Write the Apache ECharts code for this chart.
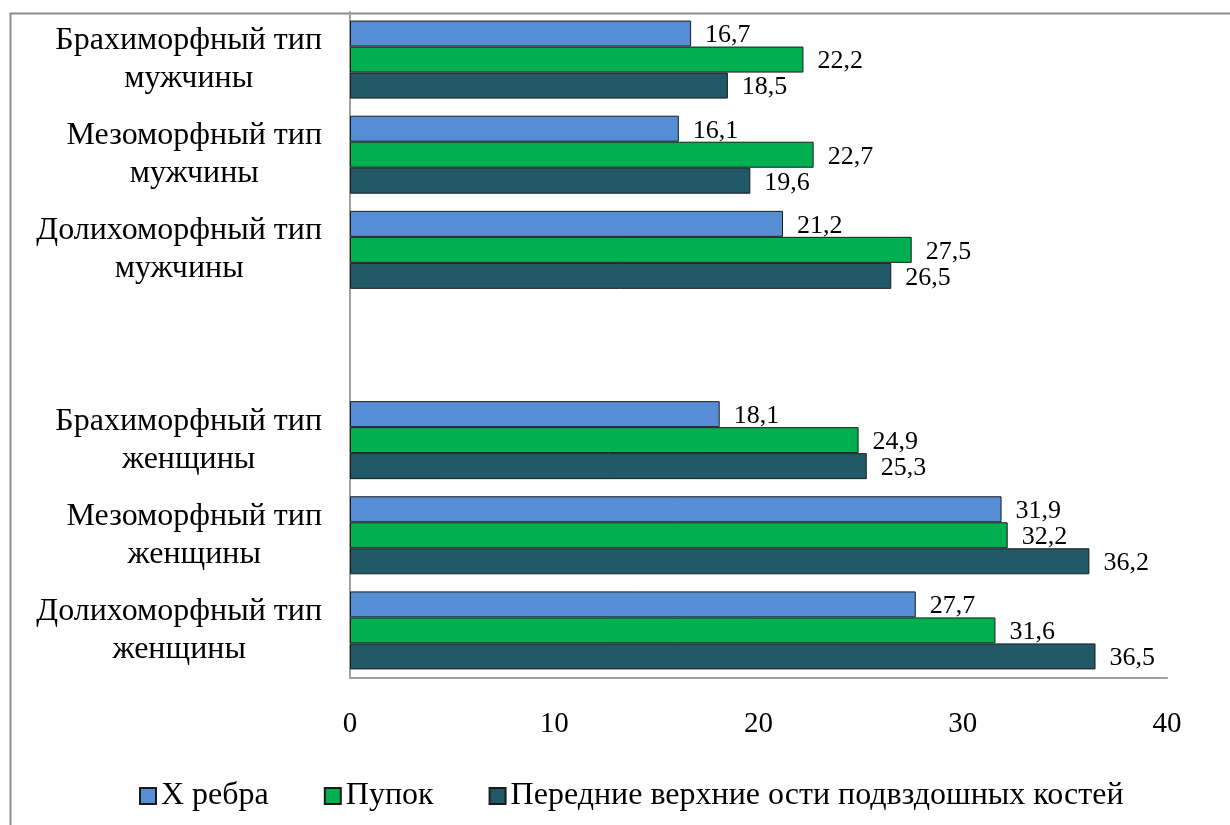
<!DOCTYPE html>
<html>
<head>
<meta charset="utf-8">
<script src="https://cdn.jsdelivr.net/npm/echarts@6/dist/echarts.min.js"></script>
<style>
  html, body { margin: 0; padding: 0; background: #fff; }
  #chart { width: 1230px; height: 825px; }
</style>
</head>
<body>
<div id="chart"></div>
<script>
// categories top to bottom, empty slot separates men and women
const categories = [
  "Брахиморфный тип\nмужчины",
  "Мезоморфный тип\nмужчины",
  "Долихоморфный тип\nмужчины",
  "",
  "Брахиморфный тип\nженщины",
  "Мезоморфный тип\nженщины",
  "Долихоморфный тип\nженщины"
];
const seriesNames = ["X ребра", "Пупок", "Передние верхние ости подвздошных костей"];
const ribValues = [16.7, 16.1, 21.2, null, 18.1, 31.9, 27.7];
const navelValues = [22.2, 22.7, 27.5, null, 24.9, 32.2, 31.6];
const spineValues = [18.5, 19.6, 26.5, null, 25.3, 36.2, 36.5];
const colors = ["#558ED5", "#00B050", "#215968"];

const font = "'Liberation Serif', 'Times New Roman', serif";
const chart = echarts.init(document.getElementById("chart"));

function makeSeries(name, data, color) {
  return {
    name: name,
    type: "bar",
    data: data,
    barWidth: 26,
    barGap: "0%",
    itemStyle: { color: color, borderColor: "#1a1a1a", borderWidth: 1 },
    label: {
      show: true,
      position: "right",
      distance: 14,
      offset: [0, 2],
      fontFamily: font,
      fontSize: 26,
      color: "#000",
      formatter: p => String(p.value).replace(".", ",")
    }
  };
}

chart.setOption({
  animation: false,
  backgroundColor: "#fff",
  textStyle: { fontFamily: font },
  graphic: [{
    type: "rect",
    left: 8, top: 11,
    shape: { width: 1300, height: 900 },
    style: { fill: "none", stroke: "#8C8C8C", lineWidth: 2 },
    silent: true
  }],
  grid: { left: 350, right: 63, top: 12, bottom: 147, containLabel: false },
  legend: {
    left: 134,
    top: 775,
    itemWidth: 16,
    itemHeight: 16,
    itemGap: 55,
    icon: "rect",
    textStyle: { fontFamily: font, fontSize: 32, color: "#000" },
    data: seriesNames
  },
  xAxis: {
    type: "value",
    min: 0,
    max: 40,
    interval: 10,
    axisLine: { show: true, lineStyle: { color: "#A0A0A0", width: 2 } },
    axisTick: { show: false },
    splitLine: { show: false },
    axisLabel: { fontFamily: font, fontSize: 29, color: "#000", margin: 32 }
  },
  yAxis: {
    type: "category",
    inverse: true,
    data: categories,
    axisLine: { show: true, lineStyle: { color: "#A0A0A0", width: 2 } },
    axisTick: { show: false },
    axisLabel: {
      margin: 28,
      align: "right",
      formatter: v => v ? v.split("\n").map(s => "{c|" + s + "}").join("\n") : "",
      rich: {
        c: { align: "center", fontFamily: font, fontSize: 32, color: "#000", lineHeight: 38 }
      }
    }
  },
  series: [
    makeSeries(seriesNames[0], ribValues, colors[0]),
    makeSeries(seriesNames[1], navelValues, colors[1]),
    makeSeries(seriesNames[2], spineValues, colors[2])
  ]
});
</script>
</body>
</html>
